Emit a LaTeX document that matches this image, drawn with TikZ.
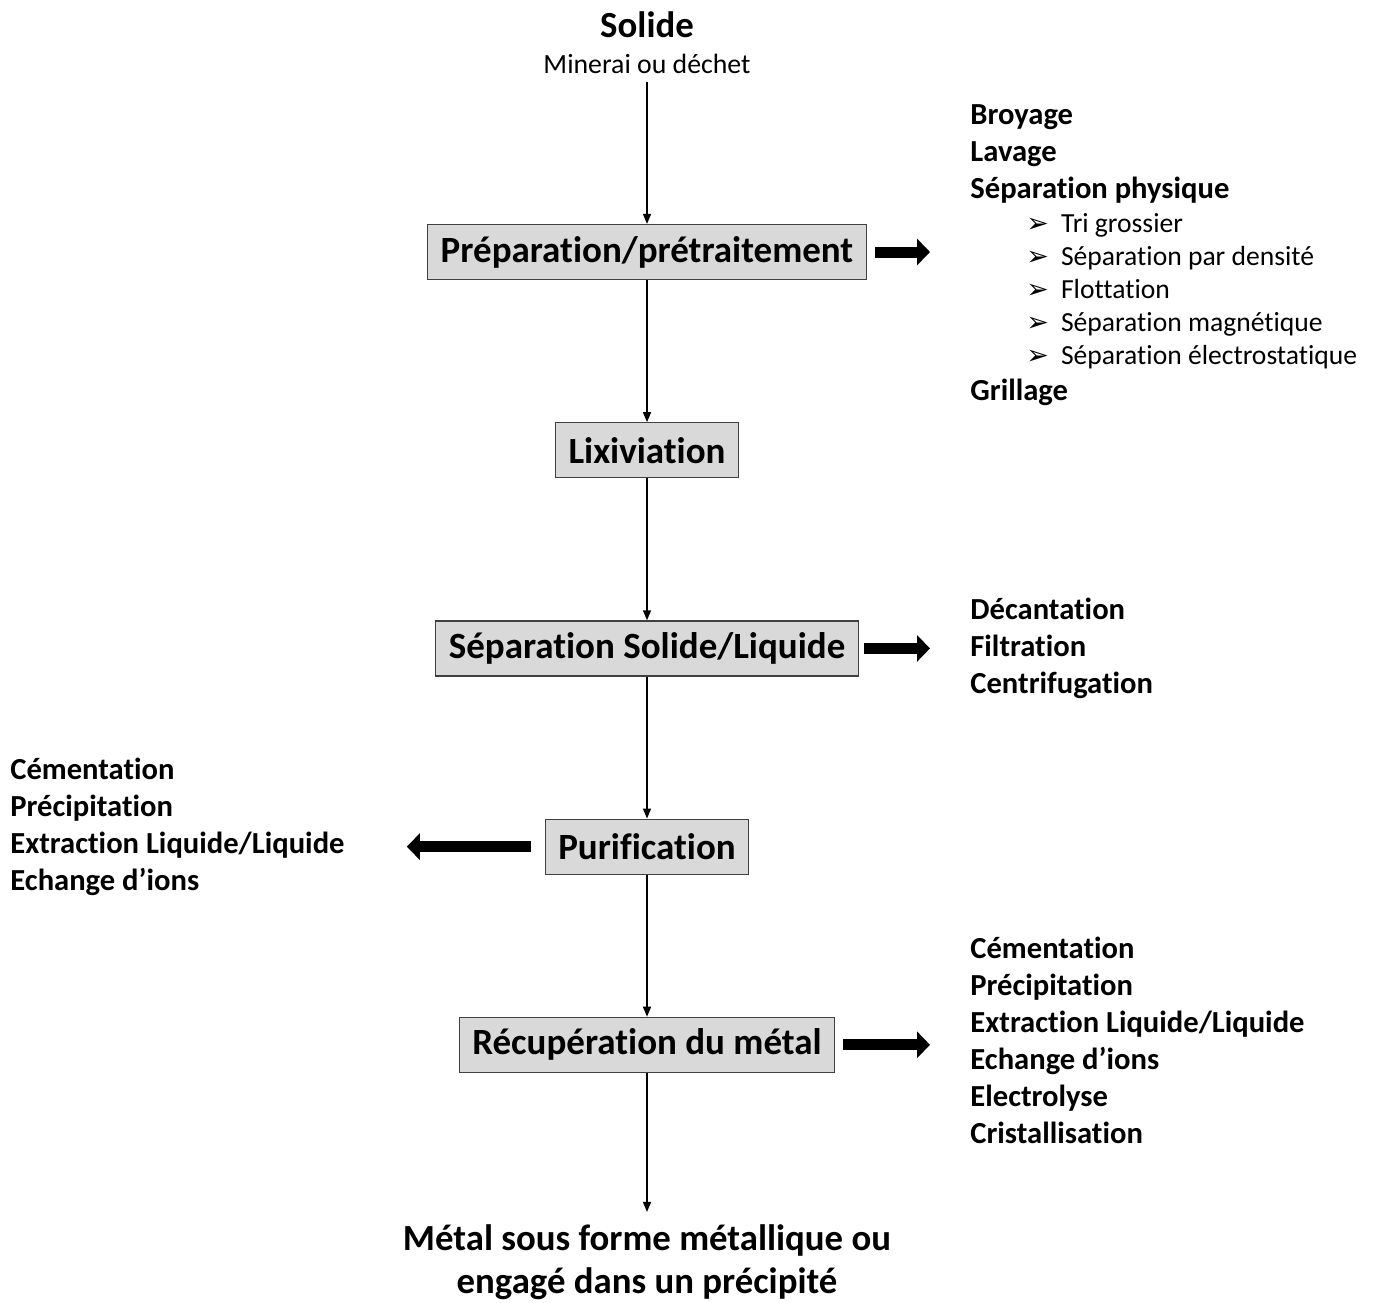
\documentclass[tikz,border=0pt]{standalone}
\usepackage{fontspec}
\setmainfont{Carlito}[Ligatures=NoCommon]
\newfontfamily\dejavu{DejaVu Sans}
\usepackage{xcolor}
\usetikzlibrary{arrows.meta,positioning}
\definecolor{boxgray}{HTML}{D9D9D9}
\definecolor{boxline}{HTML}{404040}
\newcommand{\puce}{\hspace{28pt}{\dejavu\fontsize{13.5}{12}\selectfont ➢}\hspace{6pt}}

\begin{document}
\begin{tikzpicture}[
  x=0.5pt,y=-0.5pt,
  node distance=71pt and 20pt,
  stage/.style={draw=boxline,line width=0.6pt,fill=boxgray,font=\bfseries\fontsize{18.5}{21}\selectfont,minimum height=27.5pt,inner xsep=6.5pt,inner ysep=0pt},
  title/.style={font=\bfseries\fontsize{18.4}{21.5}\selectfont,align=center,inner sep=1pt},
  sub/.style={font=\fontsize{13.9}{15}\selectfont,inner sep=1pt},
  list/.style={font=\bfseries\fontsize{15.3}{18.5}\selectfont,align=left,inner sep=0pt,anchor=north west},
  bullets/.style={font=\fontsize{13.8}{16.5}\selectfont,align=left,inner sep=0pt,anchor=north west},
  flow/.style={-{Triangle[length=5pt,width=4pt]},draw=black,line width=0.75pt},
  bigarrow/.style={-{Triangle[length=6.5pt,width=13pt]},draw=black,line width=5.5pt}
]
\useasboundingbox (0,0) rectangle (1374,1302);
% main column
\node[title] (solide) at (647,25) {Solide};
\node[sub,below=5.5pt of solide] (minerai) {Minerai ou déchet};
\node[stage] (prep) at (647,252) {Préparation/prétraitement};
\node[stage,below=of prep] (lix) {Lixiviation};
\node[stage,below=of lix] (sep) {Séparation Solide/Liquide};
\node[stage,below=of sep] (purif) {Purification};
\node[stage,below=of purif] (recup) {Récupération du métal};
\node[title,below=74.5pt of recup] (metal) {Métal sous forme métallique ou\\engagé dans un précipité};
% side lists
\node[list] (prepl) at (970,104) {Broyage\\Lavage\\Séparation physique};
\node[bullets,below right=5pt and 0pt of prepl.south west] (physl) {\puce Tri grossier\\\puce Séparation par densité\\\puce Flottation\\\puce Séparation magnétique\\\puce Séparation électrostatique};
\node[list,below right=4.5pt and 0pt of physl.south west] (grill) {Grillage};
\node[list] (sepl) at (970,598) {Décantation\\Filtration\\Centrifugation};
\node[list] (purifl) at (10,758) {Cémentation\\Précipitation\\Extraction Liquide/Liquide\\Echange d’ions};
\node[list] (recupl) at (970,937) {Cémentation\\Précipitation\\Extraction Liquide/Liquide\\Echange d’ions\\Electrolyse\\Cristallisation};
% flow
\draw[flow,shorten <=3pt] (minerai) -- (prep);
\draw[flow] (prep) -- (lix);
\draw[flow] (lix) -- (sep);
\draw[flow] (sep) -- (purif);
\draw[flow] (purif) -- (recup);
\draw[flow,shorten >=5pt] (recup) -- (metal);
% side arrows
\draw[bigarrow,shorten >=20pt] ([xshift=4pt]prep.east) -- (prep.east -| prepl.west);
\draw[bigarrow,shorten >=20pt] ([xshift=2.5pt]sep.east) -- (sep.east -| sepl.west);
\draw[bigarrow,shorten >=31pt] ([xshift=-7pt]purif.west) -- (purif.west -| purifl.east);
\draw[bigarrow,shorten >=20pt] ([xshift=4pt]recup.east) -- (recup.east -| recupl.west);
\end{tikzpicture}
\end{document}
